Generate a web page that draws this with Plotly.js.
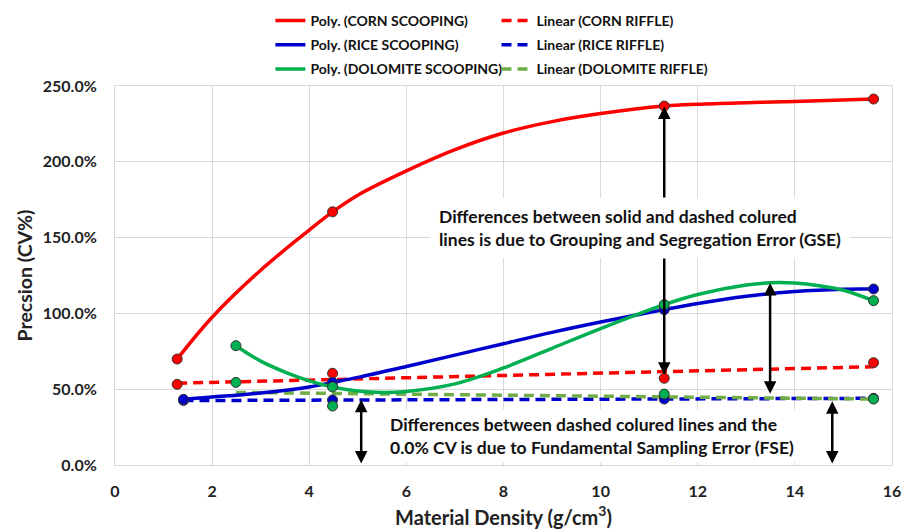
<!DOCTYPE html>
<html>
<head>
<meta charset="utf-8">
<script src="https://cdn.plot.ly/plotly-3.0.1.min.js"></script>
<style>html,body{margin:0;padding:0;background:#fff;}#chart{width:905px;height:532px;}</style>
</head>
<body>
<div id="chart"></div>
<script>
// ---- measured data points (density g/cm3, precision CV%) ----
const densityCorn = [1.28, 4.48, 11.31, 15.62];
const densityRice = [1.41, 4.48, 11.31, 15.62];
const densityDolomite = [2.49, 4.48, 11.31, 15.62];

const cornScooping = [69.9, 167.0, 236.8, 241.4];
const cornRiffle = [53.2, 60.5, 57.2, 67.5];
const riceScooping = [43.3, 54.5, 102.5, 116.1];
const riceRiffle = [42.6, 42.9, 43.5, 44.0];
const dolomiteScooping = [78.7, 51.5, 105.8, 108.4];
const dolomiteRiffle = [54.5, 38.9, 46.8, 43.5];

// ---- trendline values ----
const cornPolyX = [1.28, 2, 3, 4, 4.48, 5, 6, 7, 8, 9, 10, 11.31, 12, 13, 14, 15.62];
const cornPolyY = [69.9, 97.5, 128.5, 155, 167, 178, 194, 208, 219, 226.5, 231.8, 236.8, 238, 239, 239.8, 241.4];
const ricePolyX = [1.41, 2, 3, 4, 4.48, 5, 6, 7, 8, 9, 10, 11.31, 12, 13, 14, 15, 15.62];
const ricePolyY = [43.3, 44.8, 47.5, 51.5, 54.5, 57.8, 65, 72.5, 80, 87.5, 94.3, 102.5, 106.5, 111.3, 114.5, 116, 116.1];
const dolomitePolyX = [2.49, 3, 3.5, 4, 4.48, 5, 5.5, 6, 7, 8, 9, 10, 11.31, 12, 13, 13.5, 14, 14.5, 15, 15.62];
const dolomitePolyY = [78.7, 68.5, 61.3, 55.5, 51.5, 48.8, 47.8, 48.5, 53.5, 64, 77, 90, 105.8, 112.5, 118.7, 120.2, 120, 118.3, 115.3, 108.4];

const cornLinX = [1.28, 15.62];
const cornLinY = [54.0, 64.8];
const riceLinX = [1.41, 15.62];
const riceLinY = [42.5, 44.0];
const dolomiteLinX = [2.49, 15.62];
const dolomiteLinY = [47.9, 43.5];

const seriesNames = [
  'Poly. (CORN SCOOPING)', 'Poly. (RICE SCOOPING)', 'Poly. (DOLOMITE SCOOPING)',
  'Linear (CORN RIFFLE)', 'Linear (RICE RIFFLE)', 'Linear (DOLOMITE RIFFLE)'
];

const xTicks = [0, 2, 4, 6, 8, 10, 12, 14, 16];
const yTicks = [0, 50, 100, 150, 200, 250];

// ---- colours ----
const RED = '#FF0000', BLUE = '#0000CC', GREEN = '#00B050', LGREEN = '#70AD47';
const FONT = 'Lato, "Open Sans", sans-serif';
const DASH = '10px,6px';

function poly(x, y, name, color, group) {
  return {x, y, name, type: 'scatter', mode: 'lines', line: {color, width: 3.5, shape: 'spline', smoothing: 1},
          legend: 'legend', legendgroup: group, hoverinfo: 'skip'};
}
function lin(x, y, name, color, group) {
  return {x, y, name, type: 'scatter', mode: 'lines', line: {color, width: 3.5, dash: DASH},
          legend: 'legend2', legendgroup: group, hoverinfo: 'skip'};
}
function pts(x, y, color) {
  return {x, y, type: 'scatter', mode: 'markers', showlegend: false,
          marker: {color, size: 10, line: {color: '#333', width: 1}}};
}

const traces = [
  lin(cornLinX, cornLinY, seriesNames[3], RED, 'g4'),
  lin(riceLinX, riceLinY, seriesNames[4], BLUE, 'g5'),
  lin(dolomiteLinX, dolomiteLinY, seriesNames[5], LGREEN, 'g6'),
  poly(cornPolyX, cornPolyY, seriesNames[0], RED, 'g1'),
  poly(ricePolyX, ricePolyY, seriesNames[1], BLUE, 'g2'),
  poly(dolomitePolyX, dolomitePolyY, seriesNames[2], GREEN, 'g3'),
  pts(densityCorn, cornRiffle, RED),
  pts(densityRice, riceRiffle, BLUE),
  pts(densityDolomite, dolomiteRiffle, GREEN),
  pts(densityCorn, cornScooping, RED),
  pts(densityRice, riceScooping, BLUE),
  pts(densityDolomite, dolomiteScooping, GREEN)
];

function dblArrow(x, y0, y1) {
  return {xref: 'x', yref: 'y', axref: 'x', ayref: 'y', x: x, y: y1, ax: x, ay: y0, text: '',
          showarrow: true, arrowhead: 2, startarrowhead: 2, arrowside: 'end+start',
          arrowsize: 1, startarrowsize: 1, arrowwidth: 2.5, arrowcolor: '#000'};
}

const annFont = {family: FONT, size: 17.5, color: '#111', weight: 700};

const layout = {
  width: 905, height: 532,
  margin: {l: 115, r: 13, t: 86, b: 67, autoexpand: false},
  paper_bgcolor: '#fff', plot_bgcolor: '#fff',
  font: {family: FONT, color: '#222', weight: 700},
  xaxis: {
    range: [0, 16], tickvals: xTicks, ticktext: xTicks.map(String),
    showgrid: true, gridcolor: '#D9D9D9', gridwidth: 1, zeroline: false,
    showline: true, mirror: true, linecolor: '#D9D9D9', linewidth: 1,
    tickfont: {family: FONT, size: 16, color: '#222', weight: 700},
    ticklabelstandoff: 12, ticks: '', automargin: false,
    title: {text: 'Material Density (g/cm<sup>3</sup>)', standoff: 11,
            font: {family: FONT, size: 20, color: '#222', weight: 700}}
  },
  yaxis: {
    range: [0, 250], tickvals: yTicks, ticktext: yTicks.map(v => v.toFixed(1) + '%'),
    showgrid: true, gridcolor: '#D9D9D9', gridwidth: 1, zeroline: false,
    showline: true, mirror: true, linecolor: '#D9D9D9', linewidth: 1,
    tickfont: {family: FONT, size: 16, color: '#222', weight: 700},
    ticklabelstandoff: 14, ticks: '', automargin: false,
    title: {text: 'Precsion (CV%)', standoff: 4,
            font: {family: FONT, size: 19.5, color: '#222', weight: 700}}
  },
  showlegend: true,
  legend: {x: 0.200, y: 1.214, xanchor: 'left', yanchor: 'top', orientation: 'v',
           bgcolor: 'rgba(0,0,0,0)', tracegroupgap: 3, itemwidth: 30,
           font: {family: FONT, size: 14, color: '#111', weight: 700}},
  legend2: {x: 0.491, y: 1.214, xanchor: 'left', yanchor: 'top', orientation: 'v',
           bgcolor: 'rgba(0,0,0,0)', tracegroupgap: 3, itemwidth: 30,
           font: {family: FONT, size: 14, color: '#111', weight: 700}},
  annotations: [
    dblArrow(11.31, 58.5, 236.4),
    dblArrow(13.49, 46, 120),
    dblArrow(5.07, 0, 43),
    dblArrow(14.77, 0, 42),
    {xref: 'x', yref: 'y', x: 6.49, y: 156.3, xanchor: 'left', yanchor: 'middle', align: 'left',
     text: 'Differences between solid and dashed colured<br>lines is due to Grouping and Segregation Error (GSE)',
     showarrow: false, bgcolor: '#fff', borderpad: 8, font: annFont},
    {xref: 'x', yref: 'y', x: 5.56, y: 19.1, xanchor: 'left', yanchor: 'middle', align: 'left',
     text: 'Differences between dashed colured lines and the<br>0.0% CV is due to Fundamental Sampling Error (FSE)',
     showarrow: false, bgcolor: '#fff', borderpad: 4, font: annFont}
  ]
};

Plotly.newPlot('chart', traces, layout, {displayModeBar: false, staticPlot: true});
</script>
</body>
</html>
